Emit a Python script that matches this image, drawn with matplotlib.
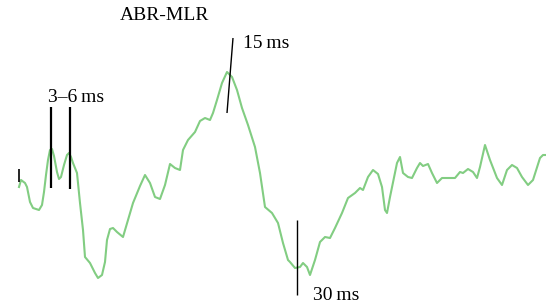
import matplotlib.pyplot as plt
import numpy as np

# waveform (x: sample position, y: amplitude, screen units, down = positive)
wave_x = [19, 21, 25, 27, 30, 33, 39, 42, 44, 46, 48, 50, 52, 54, 57, 59, 61, 64, 67, 69, 71,
          73, 77, 80, 83, 85,
          90, 95, 98, 102, 105, 107, 110, 113, 117, 123, 128, 133, 140, 145, 150, 155, 160,
          165, 170, 175, 180, 183, 188, 195, 200, 205, 210, 213, 217, 222, 227, 232, 237,
          242, 248, 255, 260, 265, 272, 278, 283, 288, 290, 295, 300, 303, 307, 310, 315,
          320, 325, 330, 335, 342, 348, 355, 360, 363, 368, 373, 378, 382, 385, 387, 390,
          397, 400, 403, 408, 412, 417, 420, 423, 428, 432, 437, 442, 450, 455, 460, 463,
          468, 473, 477, 480, 485, 490, 497, 502, 507, 512, 517, 522, 528, 533, 540, 543, 546]
wave_y = [187, 180, 183, 187, 202, 208, 210, 205, 192, 175, 160, 150, 149, 156, 172, 179, 177,
          165, 155, 153, 157, 163, 173,
          203, 230, 257, 263, 273, 278, 275, 262, 240, 229, 228, 232, 237, 220, 203, 186, 175,
          183, 197, 199, 185, 164, 168, 170, 150, 140, 132, 121, 118, 120, 113, 100, 83, 72,
          77, 90, 108, 125, 147, 173, 207, 213, 223, 243, 260, 262, 268, 267, 263, 267, 275,
          260, 242, 237, 238, 228, 213, 198, 193, 188, 190, 177, 170, 174, 187, 210, 213, 197,
          163, 157, 173, 177, 178, 168, 163, 166, 164, 173, 183, 178, 178, 178, 172, 173, 169,
          172, 178, 167, 145, 160, 178, 185, 170, 165, 168, 177, 185, 180, 158, 155, 155]

# latency markers: (x0, y0, x1, y1, linewidth)
markers = [
    (19, 169, 19, 182, 1.2),
    (51, 107, 51, 188, 1.6),
    (70, 107, 70, 189, 1.6),
    (233, 38, 227, 113, 1.0),
    (297, 220, 297, 295, 1.0),
]
labels = ["ABR-MLR", "3\u20136\u2009ms", "15\u2009ms", "30\u2009ms"]
label_pos = [(165, 15), (76, 97), (266, 44), (336, 295)]

fig = plt.figure(figsize=(5.46, 3.06), dpi=100)
ax = fig.add_axes([0, 0, 1, 1])
ax.set_xlim(0, 546)
ax.set_ylim(306, 0)
ax.axis("off")

ax.plot(wave_x, wave_y, color="#82cd82", lw=1.5, solid_joinstyle="round")
for x0, y0, x1, y1, lw in markers:
    ax.plot([x0, x1], [y0, y1], color="black", lw=lw, solid_capstyle="butt")

for text, (tx, ty) in zip(labels, label_pos):
    ax.text(tx, ty, text, ha="center", va="center", fontsize=14,
            family=["Liberation Serif", "DejaVu Serif"])

fig.savefig("out.png", dpi=100)
